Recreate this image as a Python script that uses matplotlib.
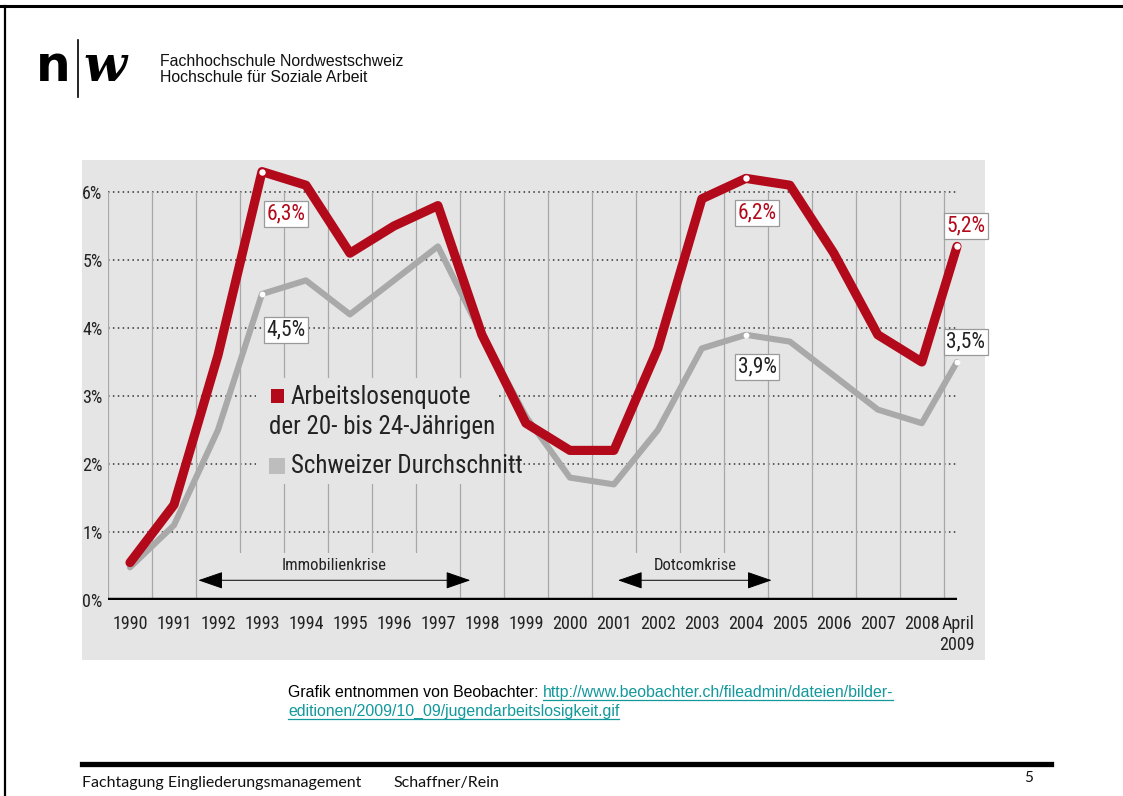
import matplotlib
matplotlib.use("Agg")
import matplotlib.pyplot as plt
from matplotlib.patches import Rectangle, FancyArrowPatch
from matplotlib.lines import Line2D
from matplotlib import font_manager as fm

# ---------------- data ----------------
years = [1990, 1991, 1992, 1993, 1994, 1995, 1996, 1997, 1998, 1999,
         2000, 2001, 2002, 2003, 2004, 2005, 2006, 2007, 2008, 2008.8]
year_labels = ["1990", "1991", "1992", "1993", "1994", "1995", "1996", "1997",
               "1998", "1999", "2000", "2001", "2002", "2003", "2004", "2005",
               "2006", "2007", "2008", "April\n2009"]
youth_rate = [0.55, 1.4, 3.6, 6.3, 6.1, 5.1, 5.5, 5.8, 3.9, 2.6,
              2.2, 2.2, 3.7, 5.9, 6.2, 6.1, 5.1, 3.9, 3.5, 5.2]
swiss_avg = [0.48, 1.1, 2.5, 4.5, 4.7, 4.2, 4.7, 5.2, 3.9, 2.7,
             1.8, 1.7, 2.5, 3.7, 3.9, 3.8, 3.3, 2.8, 2.6, 3.5]
y_ticks = [0, 1, 2, 3, 4, 5, 6]
y_tick_labels = ["0%", "1%", "2%", "3%", "4%", "5%", "6%"]
highlight_idx = [3, 14, 19]
youth_labels = ["6,3%", "6,2%", "5,2%"]
swiss_labels = ["4,5%", "3,9%", "3,5%"]

RED = "#b30a1b"
GREY = "#a9a9a9"
BG = "#e5e5e5"
TXT = "#222222"

avail = {f.name for f in fm.fontManager.ttflist}
cond = [f for f in ["Roboto Condensed", "Liberation Sans Narrow", "DejaVu Sans"] if f in avail]
COND = dict(family=cond, stretch="condensed")

W, H = 1123, 796
fig = plt.figure(figsize=(W / 100, H / 100), dpi=100)
fig.patch.set_facecolor("white")


def fx(px):
    return px / W


def fy(py):
    return 1 - py / H


# page borders
fig.add_artist(Line2D([0, 1], [fy(6), fy(6)], color="black", lw=2.2))
fig.add_artist(Line2D([fx(5), fx(5)], [0, fy(6)], color="black", lw=1.6))

# logo
fig.text(fx(36), fy(81), "n", fontsize=35, fontweight="bold", family="DejaVu Sans",
         ha="left", va="baseline", color="black")
fig.add_artist(Line2D([fx(78), fx(78)], [fy(97), fy(40)], color="black", lw=1.2))
fig.text(fx(83), fy(81), "w", fontsize=36, fontweight="bold", style="italic",
         family="DejaVu Serif", ha="left", va="baseline", color="black")
fig.text(fx(160), fy(66), "Fachhochschule Nordwestschweiz", fontsize=11.4,
         family="Liberation Sans", ha="left", va="baseline", color="#111111")
fig.text(fx(160), fy(82), "Hochschule für Soziale Arbeit", fontsize=11.4,
         family="Liberation Sans", ha="left", va="baseline", color="#111111")

# chart panel
fig.add_artist(Rectangle((fx(82), fy(660)), fx(985) - fx(82), fy(160) - fy(660),
                         transform=fig.transFigure, facecolor=BG, edgecolor="none", zorder=0))

# axes
x0, x1 = 108, 957
ybot, ytop = 600, 600 - 6.4 * 68
ax = fig.add_axes([fx(x0), fy(ybot), fx(x1) - fx(x0), fy(ytop) - fy(ybot)])
ax.set_facecolor("none")
ax.set_xlim(1989.5, 2008.8)
ax.set_ylim(0, 6.4)
for s in ax.spines.values():
    s.set_visible(False)

# grid
for yv in y_ticks[1:]:
    ax.axhline(yv, color="#333333", lw=1.1, ls=(0, (1, 2.2)), zorder=1)
for yr in years[:-1]:
    ax.plot([yr - 0.5, yr - 0.5], [0, 6], color="#a8a8a8", lw=0.9, zorder=1)
ax.plot([years[-2] + 0.5, years[-2] + 0.5], [0, 6], color="#a8a8a8", lw=0.9, zorder=1)
ax.axhline(0, color="black", lw=3.2, zorder=6)

# masks (legend and annotations)
ax.add_patch(Rectangle((1992.86, 1.7), 5.5, 1.57, facecolor=BG, edgecolor="none", zorder=2))
ax.add_patch(Rectangle((1992.05, 0.03), 4.9, 0.66, facecolor=BG, edgecolor="none", zorder=2))
ax.add_patch(Rectangle((2001.1, 0.03), 2.9, 0.66, facecolor=BG, edgecolor="none", zorder=2))

# lines
ax.plot(years, swiss_avg, color=GREY, lw=4.4, solid_joinstyle="round",
        solid_capstyle="round", zorder=4, clip_on=False)
ax.plot(years, youth_rate, color=RED, lw=6.6, solid_joinstyle="round",
        solid_capstyle="round", zorder=5, clip_on=False)
ax.plot([years[i] for i in highlight_idx], [swiss_avg[i] for i in highlight_idx],
        ls="none", marker="o", ms=3.2, mfc="white", mec="white", zorder=7, clip_on=False)
ax.plot([years[i] for i in highlight_idx], [youth_rate[i] for i in highlight_idx],
        ls="none", marker="o", ms=3.6, mfc="white", mec="white", zorder=7, clip_on=False)

# value labels
box = dict(boxstyle="square,pad=0.12", facecolor="white", edgecolor="#9a9a9a", lw=0.9)
red_pos = [(1993.55, 5.68), (2004.26, 5.69), (2009.0, 5.5)]
grey_pos = [(1993.55, 3.97), (2004.26, 3.43), (2009.0, 3.8)]
for (px, py), lab in zip(red_pos, youth_labels):
    ax.text(px, py, lab, color=RED, fontsize=15.5, ha="center", va="center",
            bbox=box, zorder=8, clip_on=False, **COND)
for (px, py), lab in zip(grey_pos, swiss_labels):
    ax.text(px, py, lab, color=TXT, fontsize=15.5, ha="center", va="center",
            bbox=box, zorder=8, clip_on=False, **COND)

# legend
ax.add_patch(Rectangle((1993.2, 2.9), 0.30, 0.2, facecolor=RED, edgecolor="none", zorder=3))
ax.text(1993.66, 2.99, "Arbeitslosenquote", fontsize=18, color=TXT, ha="left",
        va="center", zorder=3, **COND)
ax.text(1993.16, 2.54, "der 20- bis 24-Jährigen", fontsize=18, color=TXT, ha="left",
        va="center", zorder=3, **COND)
ax.add_patch(Rectangle((1993.16, 1.85), 0.36, 0.24, facecolor="#bdbdbd", edgecolor="none", zorder=3))
ax.text(1993.66, 1.97, "Schweizer Durchschnitt", fontsize=18, color=TXT, ha="left",
        va="center", zorder=3, **COND)

# crisis arrows
for xa, xb, xt, lab in [(1991.49, 1997.8, 1994.63, "Immobilienkrise"),
                        (2001.03, 2004.65, 2002.84, "Dotcomkrise")]:
    ax.add_patch(FancyArrowPatch((xa, 0.29), (xb, 0.29),
                                 arrowstyle="<|-|>,head_length=1.3,head_width=0.45",
                                 mutation_scale=12, color="black", lw=0.7, zorder=3))
    ax.text(xt, 0.51, lab, fontsize=12, color=TXT, ha="center", va="center",
            zorder=3, **COND)

# ticks
ax.set_xticks(years)
ax.set_xticklabels(year_labels)
ax.set_yticks(y_ticks)
ax.set_yticklabels(y_tick_labels)
ax.tick_params(axis="both", length=0, colors=TXT, labelsize=13)
ax.tick_params(axis="x", pad=11)
ax.tick_params(axis="y", pad=4)
for lbl in ax.get_xticklabels() + ax.get_yticklabels():
    lbl.set_family(cond)
    lbl.set_stretch("condensed")
ax.get_xticklabels()[-1].set_multialignment("right")

# caption
pre = fig.text(fx(288), fy(697), "Grafik entnommen von Beobachter: ", fontsize=11.4,
               family="Liberation Sans", ha="left", va="baseline", color="black")
fig.canvas.draw()
r = fig.canvas.get_renderer()
bb = pre.get_window_extent(r)
LINK = "#13989c"
l1 = fig.text(bb.x1 / W, fy(697), "http://www.beobachter.ch/fileadmin/dateien/bilder-",
              fontsize=11.4, family="Liberation Sans", ha="left", va="baseline", color=LINK)
l2 = fig.text(fx(288), fy(716), "editionen/2009/10_09/jugendarbeitslosigkeit.gif",
              fontsize=11.4, family="Liberation Sans", ha="left", va="baseline", color=LINK)
fig.canvas.draw()
for t, yb in [(l1, 699.5), (l2, 718.5)]:
    e = t.get_window_extent(r)
    fig.add_artist(Line2D([e.x0 / W, e.x1 / W], [fy(yb), fy(yb)], color=LINK, lw=0.9))

# footer
fig.add_artist(Line2D([fx(82), fx(1051)], [fy(764), fy(764)], color="black", lw=3.8))
fig.text(fx(82), fy(787), "Fachtagung Eingliederungsmanagement", fontsize=11.5,
         family="Lato", ha="left", va="baseline", color="#111111")
fig.text(fx(393), fy(787), "Schaffner/Rein", fontsize=11.5,
         family="Lato", ha="left", va="baseline", color="#111111")
fig.text(fx(1029), fy(782), "5", fontsize=11, family="Lato", ha="center",
         va="baseline", color="#111111")

fig.savefig("out.png", dpi=100, facecolor="white")
